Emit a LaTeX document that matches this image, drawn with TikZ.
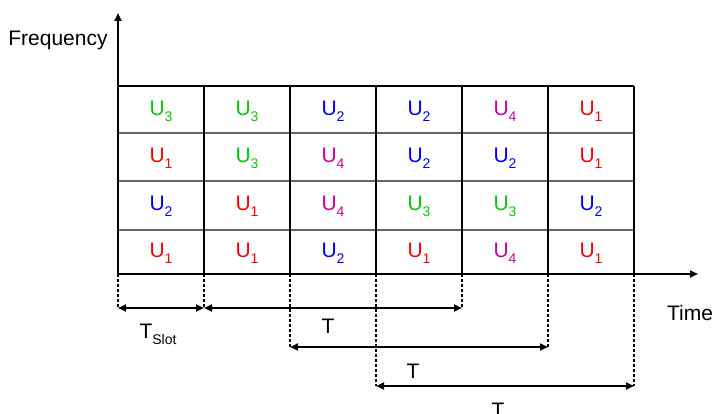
\documentclass[tikz,border=0pt]{standalone}
\usepackage{fontspec}
\setmainfont{Liberation Sans}
\usetikzlibrary{arrows.meta}
\definecolor{ugreen}{RGB}{0,204,0}
\definecolor{ured}{RGB}{255,0,0}
\definecolor{ublue}{RGB}{0,0,255}
\definecolor{umag}{RGB}{204,0,153}
\tikzset{
  lbl/.style={font=\fontsize{21}{24}\selectfont, inner sep=0pt},
  cell/.style={font=\fontsize{21}{24}\selectfont, inner sep=0pt},
  tip/.style={-{Triangle[length=8pt,width=7pt]}},
  dtip/.style={{Triangle[length=8pt,width=7pt]}-{Triangle[length=8pt,width=7pt]}},
  dim/.style={line width=2.4pt},
  guide/.style={dashed, line width=1.5pt, dash pattern=on 3pt off 2pt},
  frame/.style={line width=2.6pt},
  inner/.style={line width=1.7pt, draw=black!60},
}
\newcommand{\lowsub}[1]{\raisebox{-0.3em}{\fontsize{14}{16}\selectfont #1}}
\begin{document}
\begin{tikzpicture}[x=1pt,y=-1pt]
\useasboundingbox (0,0) rectangle (713,414);
% grid coordinates
\foreach \i/\x in {0/118,1/204,2/290,3/376,4/462,5/548,6/634}{
  \coordinate (t\i) at (\x,86);
  \coordinate (b\i) at (\x,274);
}
\coordinate (yaxis) at (118,13);
\coordinate (xaxis) at (698,274);
% inner horizontal lines
\foreach \y in {133,181,230}{
  \draw[inner] (118,\y) -- (634,\y);
}
% frame
\draw[frame] (t0) -- (t6);
\foreach \i in {1,...,6}{ \draw[frame] (t\i) -- (b\i); }
% axes
\draw[frame, tip] (b0) -- (yaxis);
\draw[frame, tip] (b0) -- (xaxis);
\node[lbl] (freq) at (58,40) {Frequency};
\node[lbl] (time) at (690,313) {Time};
% cells
\foreach \r/\y/\row in {1/111/{ugreen/3,ugreen/3,ublue/2,ublue/2,umag/4,ured/1},
                       2/158/{ured/1,ugreen/3,umag/4,ublue/2,ublue/2,ured/1},
                       3/206/{ublue/2,ured/1,umag/4,ugreen/3,ugreen/3,ublue/2},
                       4/253/{ured/1,ured/1,ublue/2,ured/1,umag/4,ured/1}}{
  \foreach \c/\n [count=\k] in \row {
    \node[cell, text=\c] (c\r-\k) at ({118+86*\k-43},\y) {U\lowsub{\n}};
  }
}
% guide coordinates
\coordinate (g0) at (118,308);
\coordinate (g1) at (204,308);
\coordinate (g2) at (290,347);
\coordinate (g3) at (376,386);
\coordinate (g4) at (462,308);
\coordinate (g5) at (548,347);
\coordinate (g6) at (634,386);
\foreach \i in {0,...,6}{ \draw[guide] (b\i) -- (g\i); }
% dimension arrows
\draw[dim, dtip] (g0) -- (g1);
\draw[dim, dtip] (g1) -- (g4);
\draw[dim, dtip] (g2) -- (g5);
\draw[dim, dtip] (g3) -- (g6);
\node[lbl] (tslot) at (158,334) {T\lowsub{Slot}};
\node[lbl] (T1) at (328,326) {T};
\node[lbl] (T2) at (413,371) {T};
\node[lbl] (T3) at (498,410) {T};
\end{tikzpicture}
\end{document}
